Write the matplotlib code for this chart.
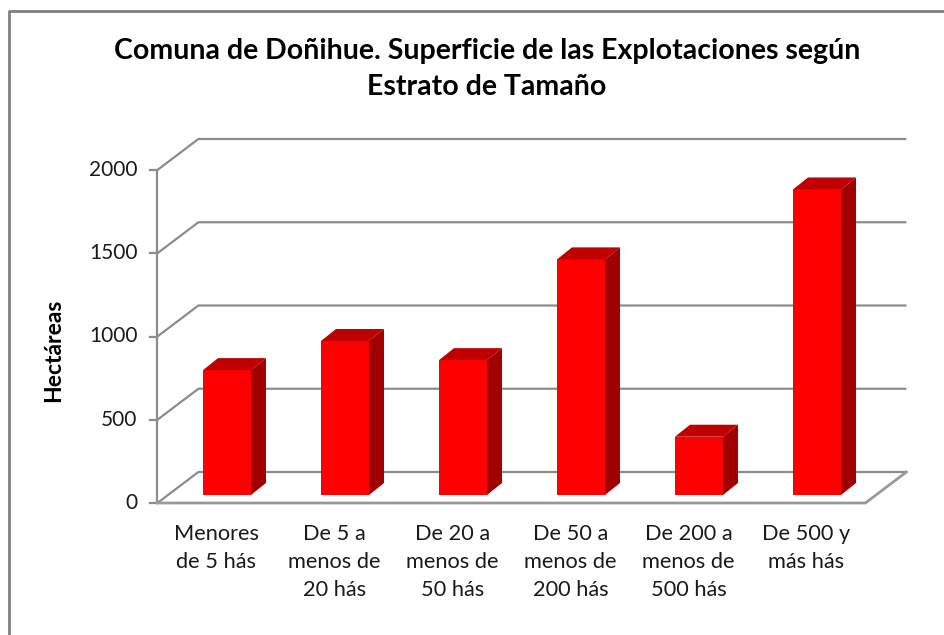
import matplotlib
matplotlib.use("Agg")
import matplotlib.pyplot as plt
from matplotlib.patches import Polygon
from matplotlib.lines import Line2D

# ---- data ----
categories = ["Menores\nde 5 hás", "De 5 a\nmenos de\n20 hás", "De 20 a\nmenos de\n50 hás",
              "De 50 a\nmenos de\n200 hás", "De 200 a\nmenos de\n500 hás", "De 500 y\nmás hás"]
values = [750, 925, 810, 1415, 350, 1835]
yticks = [0, 500, 1000, 1500, 2000]
title = "Comuna de Doñihue. Superficie de las Explotaciones según\nEstrato de Tamaño"
ylabel = "Hectáreas"

W, H, DPI = 944, 635, 100
fig = plt.figure(figsize=(W / DPI, H / DPI), dpi=DPI)
fig.patch.set_facecolor("white")

FONT = "Lato"

# axes placed in pixels; mapping: category i -> x px = 227 + 118 i ; value v -> fig-y px = 140 + v*k
px_per_cat = 118.0
k = 333.0 / 2000.0
x_at0 = 227.0
y_at0 = H - 495.0
L, R, B, T = 130, 920, 40, 520
ax = fig.add_axes([L / W, B / H, (R - L) / W, (T - B) / H])
ax.set_xlim((L - x_at0) / px_per_cat, (R - x_at0) / px_per_cat)
ax.set_ylim((B - y_at0) / k, (T - y_at0) / k)
ax.axis("off")


def dx(px):
    return px / px_per_cat


def dy(px):
    return px / k


# plane offsets (pixels) relative to bar front plane
fdx, fdy = dx(-10.6), dy(-8)     # front plane
bkdx, bkdy = dx(30.4), dy(23)    # back wall
bdx, bdy = dx(15), dy(12)        # bar depth

grid_c = "#8c8c8c"
x_lo, x_hi = -0.5, len(values) - 0.5

# gridlines (front-left edge -> back wall)
for v in yticks:
    ax.plot([x_lo + fdx, x_lo + bkdx, x_hi + bkdx], [v + fdy, v + bkdy, v + bkdy],
            color=grid_c, lw=1.6, zorder=1, solid_capstyle="butt")
    # tick mark
    ax.plot([x_lo + fdx - dx(7), x_lo + fdx], [v + fdy, v + fdy], color=grid_c, lw=1.6, zorder=1)
    ax.text(x_lo + fdx - dx(20), v + fdy, f"{v}", ha="right", va="center",
            fontsize=15, family=FONT, color="#1a1a1a")

# vertical axis line
ax.plot([x_lo + fdx, x_lo + fdx], [fdy, yticks[-1] + fdy], color=grid_c, lw=1.6, zorder=1)
# floor front edge and right edge
ax.plot([x_lo + fdx, x_hi + fdx, x_hi + bkdx], [fdy, fdy, bkdy], color="#999999", lw=2.0, zorder=1)

# bars
bw = 48.0 / px_per_cat
for i, v in enumerate(values):
    x0, x1 = i - bw / 2, i + bw / 2
    ax.bar(i, v, width=bw, color="#ff0000", zorder=3, edgecolor="none")
    top = Polygon([(x0, v), (x1, v), (x1 + bdx, v + bdy), (x0 + bdx, v + bdy)],
                  closed=True, facecolor="#c00000", edgecolor="none", zorder=3)
    side = Polygon([(x1, 0), (x1, v), (x1 + bdx, v + bdy), (x1 + bdx, bdy)],
                   closed=True, facecolor="#a00000", edgecolor="none", zorder=3)
    ax.add_patch(top)
    ax.add_patch(side)
    ax.text(i + fdx, fdy - dy(21), categories[i], ha="center", va="top",
            fontsize=15.7, family=FONT, color="#1a1a1a", linespacing=1.5)

# y label
fig.text(54 / W, 1 - 350 / H, ylabel, rotation=90, ha="center", va="center",
         fontsize=16.5, fontweight="bold", family=FONT, color="black")

# title
fig.text(487 / W, 1 - 69 / H, title, ha="center", va="center",
         fontsize=20.5, fontweight="bold", family=FONT, color="black", linespacing=1.45)

# outer border (left and top visible)
fig.add_artist(Line2D([9 / W, 9 / W, 1], [0, 1 - 11 / H, 1 - 11 / H],
                      transform=fig.transFigure, color="#808080", lw=2.0))

fig.savefig("out.png", dpi=DPI, facecolor="white")
